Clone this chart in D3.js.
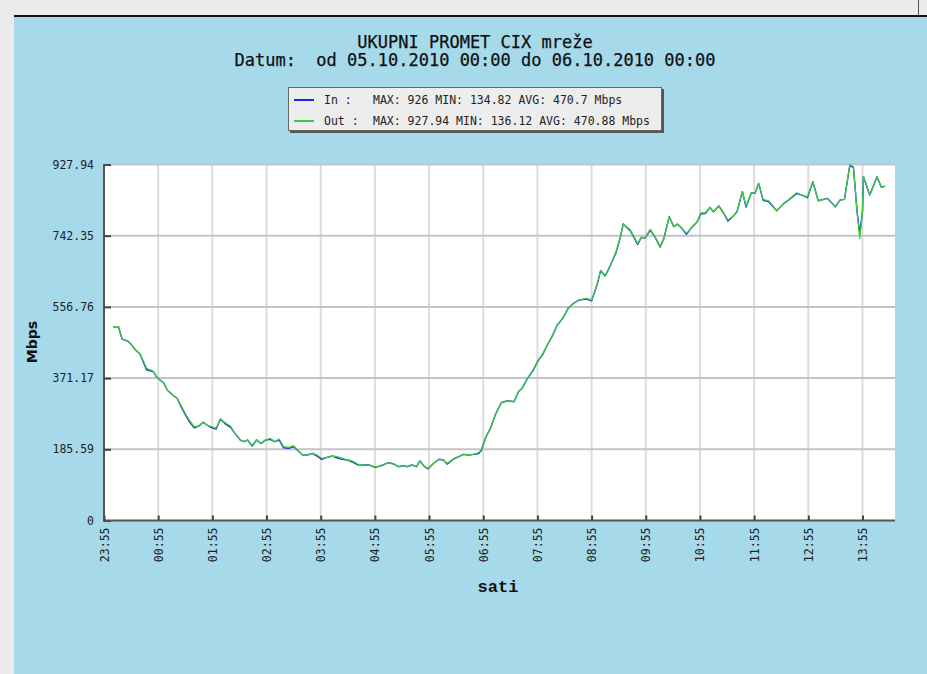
<!DOCTYPE html>
<html><head><meta charset="utf-8">
<script src="https://cdn.jsdelivr.net/npm/d3@7"></script>
<style>html,body{margin:0;padding:0;background:#ebebeb;overflow:hidden}</style>
</head><body><svg id="c" width="927" height="674"></svg>
<script>
// minutes after 23:55
const minutes = [10,16,20,26,30,35,40,44,47,52,55,58,62,66,70,76,81,86,91,95,
100,105,110,114,119,124,129,135,140,145,151,155,159,164,169,174,179,184,189,194,
199,205,210,214,220,225,231,236,241,247,253,258,264,270,275,281,288,294,300,306,
315,321,326,332,335,341,346,350,355,359,365,371,376,380,387,393,398,404,409,415,
418,423,428,434,440,447,454,459,463,469,475,480,486,491,497,502,508,514,520,526,
534,540,546,550,555,561,567,571,575,583,591,595,599,605,610,616,620,626,631,635,
640,645,650,657,661,666,671,675,681,686,691,697,701,707,711,717,721,725,730,736,
745,753,758,767,773,779,785,791,801,810,815,820,826,830,834,837,840,841,844,848,
851,856,861,865];

const outValues = [505.0,505.0,473.0,467.8,459.2,444.3,433.1,413.8,396.6,392.2,387.8,374.7,366.1,359.1,340.1,327.1,318.5,296.6,274.9,259.3,
244.4,246.3,255.9,248.9,244.4,240.3,264.5,253.3,246.3,227.2,209.8,205.4,209.8,194.1,209.8,201.2,209.8,214.2,205.4,212.4,
192.3,190.8,194.9,183.7,170.7,170.7,175.1,170.7,162.1,164.7,168.1,166.3,162.1,157.7,155.1,147.2,144.6,144.6,139.5,142.0,
150.6,147.2,140.2,142.8,140.2,144.6,140.2,155.1,140.2,136.12,149.1,159.5,157.7,149.1,160.3,166.3,172.5,170.7,172.5,176.7,
185.5,218.4,240.3,279.4,307.0,312.2,309.6,335.7,344.5,370.6,392.2,413.8,435.7,457.4,483.4,509.5,526.9,553.0,566.0,574.6,
579.1,574.6,613.7,651.5,637.2,665.8,700.5,731.0,772.7,757.0,722.4,738.0,736.2,758.9,740.1,712.7,735.4,791.7,765.6,772.7,
761.5,748.4,761.5,778.7,802.1,802.1,816.2,804.7,819.6,802.1,783.1,793.5,804.7,856.9,819.6,854.3,852.7,878.7,837.0,833.4,
807.3,826.6,835.2,854.3,848.3,843.8,882.9,833.4,839.7,817.8,835.2,837.0,927.94,922.0,804.7,735.4,804.7,895.9,878.7,848.3,
865.7,895.9,868.3,871.7];

const inValues = [505.0,505.0,473.0,467.8,459.2,444.3,433.1,410.5,393.0,389.5,387.8,374.7,366.1,359.1,340.1,327.1,318.5,293.5,272.0,256.0,
241.5,246.3,255.9,248.9,242.0,238.0,264.5,250.5,243.5,227.2,209.8,205.4,209.8,194.1,209.8,201.2,209.8,211.5,205.4,209.5,
189.5,188.5,192.0,183.7,170.7,170.7,175.1,168.0,159.5,164.7,168.1,163.5,159.5,157.7,152.5,145.0,144.6,144.6,138.5,142.0,
150.6,147.2,140.2,142.8,140.2,144.6,140.2,155.1,140.2,134.82,149.1,159.5,157.7,147.0,160.3,166.3,172.5,170.7,172.5,174.5,
183.0,218.4,240.3,279.4,307.0,312.2,309.6,335.7,344.5,370.6,390.0,413.8,433.5,457.4,483.4,509.5,526.9,553.0,566.0,574.6,
577.0,572.5,613.7,651.5,637.2,665.8,698.0,731.0,772.7,754.5,719.5,738.0,736.2,756.5,740.1,712.7,735.4,791.7,765.6,772.7,
761.5,746.0,761.5,778.7,799.5,800.0,816.2,804.7,819.6,802.1,780.5,793.5,804.7,856.9,817.0,854.3,852.7,878.7,834.5,831.0,
807.3,826.6,835.2,852.0,848.3,841.5,882.9,833.4,839.7,817.8,835.2,837.0,926.0,919.5,804.7,749.0,804.7,895.9,876.0,848.3,
865.7,895.9,868.3,871.7];

const yTickValues = [0,185.59,371.17,556.76,742.35,927.94];
const yTickLabels = ["0","185.59","371.17","556.76","742.35","927.94"];
const xTickMinutes = [0,60,120,180,240,300,360,420,480,540,600,660,720,780,840];
const xTickLabels = ["23:55","00:55","01:55","02:55","03:55","04:55","05:55","06:55","07:55","08:55","09:55","10:55","11:55","12:55","13:55"];
const titleLines = ["UKUPNI PROMET CIX mreže","Datum:  od 05.10.2010 00:00 do 06.10.2010 00:00"];
const seriesNames = ["In :","Out :"];
const seriesStats = ["MAX: 926 MIN: 134.82 AVG: 470.7 Mbps","MAX: 927.94 MIN: 136.12 AVG: 470.88 Mbps"];
const seriesColors = ["#1428e6","#3ccc3c"];
const yTitle = "Mbps";
const xTitle = "sati";

const mono = "'DejaVu Sans Mono', monospace";
const svg = d3.select("#c");

// page panel
svg.append("rect").attr("x",14).attr("y",17).attr("width",913).attr("height",657).attr("fill","#a6daeb");
svg.append("rect").attr("x",14).attr("y",15).attr("width",913).attr("height",2).attr("fill","#111");
svg.append("rect").attr("x",918).attr("y",0).attr("width",1).attr("height",15).attr("fill","#555");

const x = d3.scaleLinear().domain([0,876]).range([104,895]);
const y = d3.scaleLinear().domain([0,927.94]).range([520.5,164.5]);

// plot background
svg.append("rect").attr("x",104).attr("y",164).attr("width",791).attr("height",357).attr("fill","#fff");

// grid
svg.append("g").selectAll("line").data(xTickMinutes.slice(1)).join("line")
  .attr("x1",d=>x(d)).attr("x2",d=>x(d)).attr("y1",164).attr("y2",520)
  .attr("stroke","#dcdcdc").attr("stroke-width",2);
svg.append("g").selectAll("line").data(yTickValues.slice(1)).join("line")
  .attr("x1",104).attr("x2",895).attr("y1",d=>y(d)).attr("y2",d=>y(d))
  .attr("stroke","#c4c4c4").attr("stroke-width",2);

// series lines
const idx = d3.range(minutes.length);
const widths = [1.4,1.3];
[inValues,outValues].forEach((vals,k)=>{
  svg.append("path").datum(idx)
    .attr("fill","none").attr("stroke",seriesColors[k]).attr("stroke-width",widths[k])
    .attr("stroke-linejoin","round")
    .attr("d",d3.line().x(i=>x(minutes[i])).y(i=>y(vals[i])));
});

// axes
const yAxis = svg.append("g").attr("transform","translate(104,0)")
  .call(d3.axisLeft(y).tickValues(yTickValues).tickFormat((d,i)=>yTickLabels[i])
    .tickSizeInner(-7).tickSizeOuter(0).tickPadding(10));
const xAxis = svg.append("g").attr("transform","translate(0,520.5)")
  .call(d3.axisBottom(x).tickValues(xTickMinutes).tickFormat((d,i)=>xTickLabels[i])
    .tickSizeInner(-5).tickSizeOuter(0));
[yAxis,xAxis].forEach(a=>{
  a.select(".domain").attr("stroke","#555").attr("stroke-width",2);
  a.selectAll(".tick line").attr("stroke","#444").attr("stroke-width",2);
  a.selectAll("text").attr("font-family",mono).attr("font-size","11.5px").attr("fill","#222");
});
xAxis.select(".domain").attr("d","M103,0H895");
yAxis.select(".domain").attr("d","M0,164H0V521.5");
xAxis.selectAll(".tick text").attr("transform","rotate(-90)")
  .attr("text-anchor","end").attr("x",-7).attr("y",0).attr("dy","0.35em");

// titles
titleLines.forEach((t,i)=>{
  svg.append("text").attr("x",475).attr("y",48+i*18).attr("text-anchor","middle")
    .attr("font-family",mono).attr("font-size","17px").attr("fill","#111")
    .attr("stroke","#111").attr("stroke-width",0.25)
    .style("white-space","pre").text(t);
});

// legend
svg.append("rect").attr("x",290).attr("y",89).attr("width",374).attr("height",44).attr("fill","#555");
svg.append("rect").attr("x",288.5).attr("y",87.5).attr("width",373).attr("height",43)
  .attr("fill","#ededed").attr("stroke","#666").attr("stroke-width",1);
seriesNames.forEach((n,i)=>{
  const cy = 100 + i*21;
  svg.append("line").attr("x1",294).attr("x2",314).attr("y1",cy).attr("y2",cy)
    .attr("stroke",seriesColors[i]).attr("stroke-width",2);
  svg.append("text").attr("x",324).attr("y",cy).attr("dy","0.35em")
    .attr("font-family",mono).attr("font-size","11.5px").attr("fill","#222").text(n);
  svg.append("text").attr("x",373).attr("y",cy).attr("dy","0.35em")
    .attr("font-family",mono).attr("font-size","11.5px").attr("fill","#222").text(seriesStats[i]);
});

// axis titles
svg.append("text").attr("transform","translate(37,342) rotate(-90)").attr("text-anchor","middle")
  .attr("font-family","'DejaVu Sans', sans-serif").attr("font-weight","bold").attr("font-size","14px")
  .attr("fill","#111").text(yTitle);
svg.append("text").attr("x",498).attr("y",592).attr("text-anchor","middle")
  .attr("font-family","'Liberation Mono', monospace").attr("font-weight","bold").attr("font-size","17px")
  .attr("fill","#111").text(xTitle);
</script></body></html>
